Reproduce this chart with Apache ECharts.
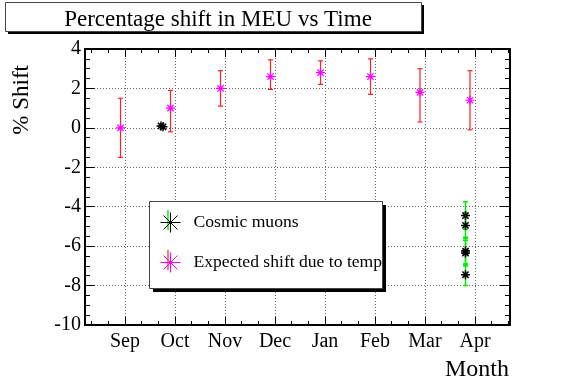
<!DOCTYPE html>
<html>
<head>
<meta charset="utf-8">
<script src="https://cdn.jsdelivr.net/npm/echarts@6/dist/echarts.min.js"></script>
<style>html,body{margin:0;padding:0;background:#fff}#c{width:567px;height:384px}</style>
</head>
<body>
<div id="c"></div>
<script>
// ---- data ----
const monthLabels = ['Sep','Oct','Nov','Dec','Jan','Feb','Mar','Apr'];
const monthPos = [1,2,3,4,5,6,7,8];
const yTicks = [-10,-8,-6,-4,-2,0,2,4];

// Expected shift due to temp (star + asymmetric error bar)
const expX    = [0.91, 1.91, 2.91, 3.91, 4.91, 5.91, 6.90, 7.90];
const expY    = [0.0,  1.0,  2.0,  2.6,  2.8,  2.6,  1.8,  1.4];
const expLow  = [-1.5, -0.2, 1.1,  1.95, 2.2,  1.7,  0.3,  -0.1];
const expHigh = [1.5,  1.9,  2.9,  3.45, 3.4,  3.5,  3.0,  2.9];

// Cosmic muons (star + symmetric error bar)
const muonX   = [1.72, 1.76, 7.81, 7.81, 7.81, 7.81, 7.81];
const muonY   = [0.1,  0.05, -4.45, -4.95, -6.25, -6.35, -7.45];
const muonErr = [0.05, 0.05, 0.7,  0.65,  0.7,   0.65,  0.55];

const SERIF = 'Liberation Serif, Times New Roman, serif';
const STAR = 'path://M0,10L20,10M10,0L10,20M3,3L17,17M17,3L3,17';
const X_MIN = 0.2, X_MAX = 8.7;

const minorX = [];
for (let k = 1; k * (1/3) < X_MAX; k++) { if (k % 3 !== 0) minorX.push(k/3); }

function errBar(color, w) {
  return function (params, api) {
    const x = api.value(0), lo = api.value(1), hi = api.value(2);
    const p1 = api.coord([x, lo]), p2 = api.coord([x, hi]);
    const c = 2.5, st = { stroke: color, lineWidth: w };
    return { type: 'group', children: [
      { type: 'line', shape: { x1: p1[0], y1: p1[1], x2: p2[0], y2: p2[1] }, style: st },
      { type: 'line', shape: { x1: p1[0]-c, y1: p1[1], x2: p1[0]+c, y2: p1[1] }, style: st },
      { type: 'line', shape: { x1: p2[0]-c, y1: p2[1], x2: p2[0]+c, y2: p2[1] }, style: st }
    ]};
  };
}

const chart = echarts.init(document.getElementById('c'), null, { renderer: 'canvas' });
const grid = { left: 85, right: 57, top: 49, bottom: 59, containLabel: false };
const split = { show: true, lineStyle: { color: '#666', width: 1, type: [1, 2] } };
const frameLine = { show: true, onZero: false, lineStyle: { color: '#000', width: 2 } };
const noLine = { show: false, onZero: false };

const option = {
  backgroundColor: '#fff',
  animation: false,
  title: {
    text: 'Percentage shift in MEU vs Time',
    left: 213, top: 3, textAlign: 'center', z: 20,
    textStyle: { fontFamily: SERIF, fontSize: 23, fontWeight: 'normal', color: '#000' }
  },
  graphic: [
    { type: 'rect', z: 15, shape: { x: 8, y: 5, width: 416, height: 29 }, style: { fill: '#000' } },
    { type: 'rect', z: 16, shape: { x: 5.5, y: 2.5, width: 416, height: 29 }, style: { fill: '#fff', stroke: '#444', lineWidth: 1 } },
    { type: 'rect', z: 15, shape: { x: 153, y: 205, width: 233, height: 87 }, style: { fill: '#000' } },
    { type: 'rect', z: 16, shape: { x: 149.5, y: 201.5, width: 233, height: 87 }, style: { fill: '#fff', stroke: '#444', lineWidth: 1 } },
    { type: 'line', z: 17, shape: { x1: 168, y1: 210, x2: 168, y2: 230 }, style: { stroke: '#00ee00', lineWidth: 1.4 } },
    { type: 'line', z: 17, shape: { x1: 168, y1: 250, x2: 168, y2: 270 }, style: { stroke: '#ff2020', lineWidth: 1.2 } }
  ],
  legend: {
    orient: 'vertical', left: 158, top: 210, z: 20,
    itemWidth: 20, itemHeight: 20, itemGap: 15, padding: 0,
    selectedMode: false,
    itemStyle: { borderWidth: 1 },
    textStyle: { fontFamily: SERIF, fontSize: 17.6, color: '#000', padding: [0, 0, 0, 8] },
    data: [
      { name: 'Cosmic muons', icon: STAR },
      { name: 'Expected shift due to temp', icon: STAR }
    ]
  },
  grid: grid,
  xAxis: [
    { type: 'value', position: 'bottom', min: X_MIN, max: X_MAX,
      axisLine: frameLine,
      axisTick: { show: true, inside: true, length: 8, customValues: monthPos, lineStyle: { color: '#000', width: 1 } },
      axisLabel: { customValues: monthPos, margin: 7, fontFamily: SERIF, fontSize: 20, color: '#000',
        formatter: v => monthLabels[Math.round(v) - 1] || '' },
      splitLine: split,
      name: 'Month', nameLocation: 'end', nameGap: -1,
      nameTextStyle: { fontFamily: SERIF, fontSize: 24, color: '#000', align: 'right', verticalAlign: 'top', padding: [33, 0, 0, 0] }
    },
    { type: 'value', position: 'bottom', min: X_MIN, max: X_MAX,
      axisLine: noLine,
      axisTick: { show: true, inside: true, length: 4, customValues: minorX, lineStyle: { color: '#000', width: 1 } },
      axisLabel: { show: false }, splitLine: { show: false }
    },
    { type: 'value', position: 'top', min: X_MIN, max: X_MAX,
      axisLine: frameLine,
      axisTick: { show: true, inside: true, length: 8, customValues: monthPos, lineStyle: { color: '#000', width: 1 } },
      axisLabel: { show: false }, splitLine: { show: false }
    },
    { type: 'value', position: 'top', min: X_MIN, max: X_MAX,
      axisLine: noLine,
      axisTick: { show: true, inside: true, length: 4, customValues: minorX, lineStyle: { color: '#000', width: 1 } },
      axisLabel: { show: false }, splitLine: { show: false }
    }
  ],
  yAxis: [
    { type: 'value', position: 'left', min: -10, max: 4, interval: 2,
      axisLine: frameLine,
      axisTick: { show: true, inside: true, length: 10, lineStyle: { color: '#000', width: 1 } },
      minorTick: { show: true, splitNumber: 4, length: 5, lineStyle: { color: '#000', width: 1 } },
      axisLabel: { margin: 4, fontFamily: SERIF, fontSize: 20, color: '#000', customValues: yTicks },
      splitLine: split,
      name: '% Shift', nameLocation: 'end', nameGap: -16, nameRotate: 90,
      nameTextStyle: { fontFamily: SERIF, fontSize: 23, color: '#000', align: 'right', verticalAlign: 'bottom', padding: [0, 0, 52, 0] }
    },
    { type: 'value', position: 'right', min: -10, max: 4, interval: 2,
      axisLine: frameLine,
      axisTick: { show: true, inside: true, length: 10, lineStyle: { color: '#000', width: 1 } },
      minorTick: { show: true, splitNumber: 4, length: 5, lineStyle: { color: '#000', width: 1 } },
      axisLabel: { show: false }, splitLine: { show: false }
    }
  ],
  series: [
    { name: 'expErr', type: 'custom', xAxisIndex: 0, yAxisIndex: 0, z: 2,
      renderItem: errBar('#ff2020', 1.2), encode: { x: 0, y: [1, 2] },
      data: expX.map((x, i) => [x, expLow[i], expHigh[i]]) },
    { name: 'muonErr', type: 'custom', xAxisIndex: 0, yAxisIndex: 0, z: 2,
      renderItem: errBar('#00ee00', 1.5), encode: { x: 0, y: [1, 2] },
      data: muonX.map((x, i) => [x, muonY[i] - muonErr[i], muonY[i] + muonErr[i]]) },
    { name: 'Expected shift due to temp', type: 'scatter', xAxisIndex: 0, yAxisIndex: 0, z: 3,
      symbol: STAR, symbolSize: 9,
      itemStyle: { color: 'none', borderColor: '#ff00ff', borderWidth: 1.2, opacity: 1 },
      data: expX.map((x, i) => [x, expY[i]]) },
    { name: 'Cosmic muons', type: 'scatter', xAxisIndex: 0, yAxisIndex: 0, z: 3,
      symbol: STAR, symbolSize: 9,
      itemStyle: { color: 'none', borderColor: '#000', borderWidth: 1.5, opacity: 1 },
      data: muonX.map((x, i) => [x, muonY[i]]) }
  ]
};
chart.setOption(option);
</script>
</body>
</html>
